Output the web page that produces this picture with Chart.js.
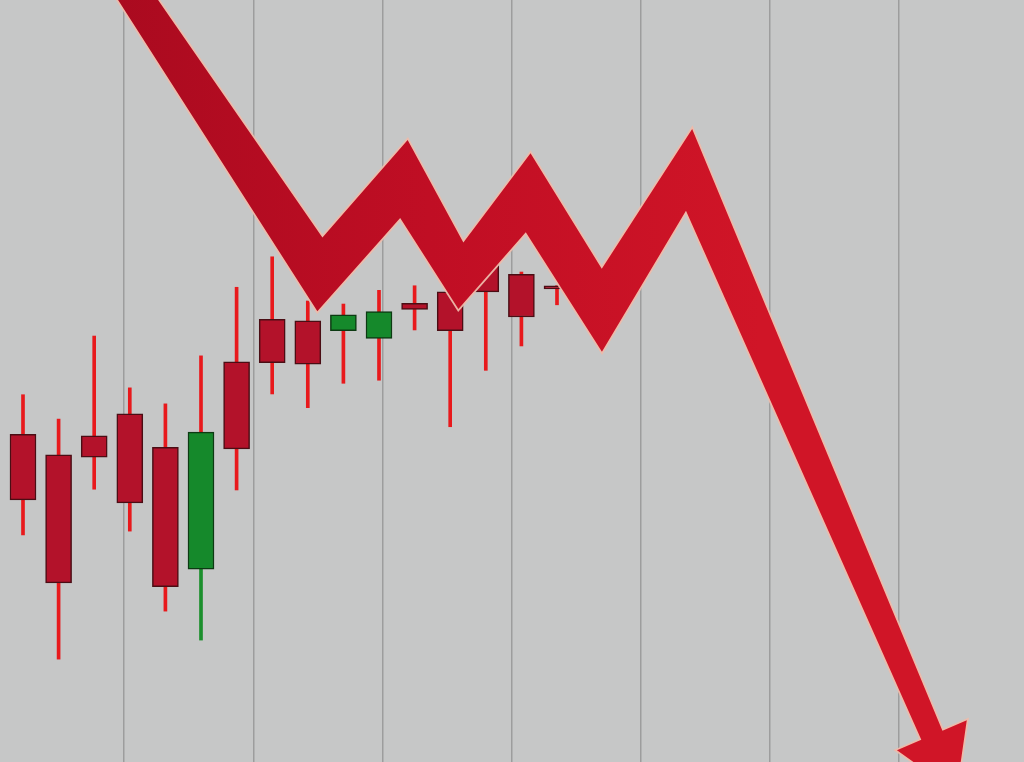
<!DOCTYPE html>
<html>
<head>
<meta charset="utf-8">
<title>Candles and falling arrow</title>
<script src="https://cdn.jsdelivr.net/npm/chart.js@4.4.0/dist/chart.umd.min.js"></script>
<style>
  html, body { margin: 0; padding: 0; background: #c6c7c7; overflow: hidden; }
  #wrap { width: 1024px; height: 762px; position: relative; }
</style>
</head>
<body>
<div id="wrap"><canvas id="chart"></canvas></div>
<script>
// candle values (price units), one per session
const opens  = [43.0, 40.3, 42.8, 45.7, 41.3, 25.3, 52.5, 58.1, 57.9, 56.6, 55.6, 60.2, 61.7, 65.6, 64.0, 62.5];
const highs  = [48.2, 45.0, 55.9, 49.1, 47.0, 53.3, 62.3, 66.3, 60.5, 60.1, 61.9, 62.5, 63.3, 66.5, 64.3, 62.5];
const lows   = [29.8, 13.5, 35.8, 30.3, 19.8, 16.0, 35.7, 48.3, 46.5, 49.7, 50.1, 56.7, 44.0, 51.4, 54.6, 60.0];
const closes = [34.4, 23.5, 40.0, 34.0, 23.0, 43.3, 41.1, 52.4, 52.2, 58.7, 59.1, 59.4, 56.6, 61.7, 58.4, 62.1];

// the big trend arrow, vertex by vertex (same units as the candles)
const arrowX = [2.67, 8.34, 10.70, 12.30, 14.19, 16.26, 18.71, 25.53];
const arrowY = [103.9, 64.0, 76.5, 63.8, 74.7, 59.3, 77.7, 3.5];

// vertical grid lines
const gridTicks = [2.84, 6.49, 10.11, 13.74, 17.36, 20.98, 24.61];

// styling
const arrowWidths = [32, 45, 46, 38, 46, 44, 38, 23];
const headHalf = 38;
const headLen = 62;
const redBody = '#b3122a', redEdge = '#4a0d14', redWick = '#e8191c';
const greenBody = '#15892b', greenEdge = '#0c3a12', greenWick = '#1b8f2c';

const rising = opens.map((o, i) => closes[i] > o);

const bodies = opens.map((o, i) => ({ x: i, y: [Math.min(o, closes[i]), Math.max(o, closes[i])] }));
const upperWicks = opens.map((o, i) => ({ x: i, y: [Math.max(o, closes[i]), highs[i]] }));
const lowerWicks = opens.map((o, i) => ({ x: i, y: [lows[i], Math.min(o, closes[i])] }));
const arrowPoints = arrowX.map((x, i) => ({ x, y: arrowY[i] }));

// draws the tapered arrow over the candles, using the points the scales placed
const arrowPlugin = {
    id: 'trendArrow',
    afterDatasetsDraw(chart) {
        const pts = chart.getDatasetMeta(0).data.map(p => ({ x: p.x, y: p.y }));
        const n = pts.length;
        const dirs = [];
        for (let i = 0; i < n - 1; i++) {
            const dx = pts[i + 1].x - pts[i].x, dy = pts[i + 1].y - pts[i].y;
            const l = Math.hypot(dx, dy);
            dirs.push({ x: dx / l, y: dy / l });
        }
        const left = [], right = [];
        pts.forEach((p, i) => {
            const a = dirs[Math.max(i - 1, 0)];
            const b = dirs[Math.min(i, n - 2)];
            let nx = -(a.y + b.y), ny = a.x + b.x;
            const l = Math.hypot(nx, ny);
            nx /= l; ny /= l;
            const k = (arrowWidths[i] / 2) / (nx * -a.y + ny * a.x);
            left.push({ x: p.x + nx * k, y: p.y + ny * k });
            right.push({ x: p.x - nx * k, y: p.y - ny * k });
        });
        const end = pts[n - 1], d = dirs[n - 2];
        const hx = -d.y, hy = d.x;

        const ctx = chart.ctx;
        ctx.save();
        ctx.beginPath();
        left.forEach((p, i) => i ? ctx.lineTo(p.x, p.y) : ctx.moveTo(p.x, p.y));
        ctx.lineTo(end.x + hx * headHalf, end.y + hy * headHalf);
        ctx.lineTo(end.x + d.x * headLen, end.y + d.y * headLen);
        ctx.lineTo(end.x - hx * headHalf, end.y - hy * headHalf);
        for (let i = n - 1; i >= 0; i--) ctx.lineTo(right[i].x, right[i].y);
        ctx.closePath();

        ctx.lineJoin = 'miter';
        ctx.miterLimit = 10;
        ctx.lineWidth = 3.5;
        ctx.strokeStyle = 'rgba(238,186,170,0.95)';
        ctx.stroke();

        const grad = ctx.createLinearGradient(100, 0, 760, 0);
        grad.addColorStop(0, '#a90a1f');
        grad.addColorStop(0.5, '#c00e24');
        grad.addColorStop(1, '#d01527');
        ctx.fillStyle = grad;
        ctx.fill();
        ctx.restore();
    }
};

new Chart(document.getElementById('chart'), {
    type: 'bar',
    data: {
        datasets: [
            {
                type: 'line',
                label: 'Trend',
                data: arrowPoints,
                showLine: false,
                pointRadius: 0,
                order: 0
            },
            {
                label: 'Body',
                data: bodies,
                backgroundColor: rising.map(r => r ? greenBody : redBody),
                borderColor: rising.map(r => r ? greenEdge : redEdge),
                borderWidth: 1.5,
                borderSkipped: false,
                barThickness: 26,
                grouped: false,
                order: 1
            },
            {
                label: 'Upper wick',
                data: upperWicks,
                backgroundColor: redWick,
                borderWidth: 0,
                barThickness: 3,
                grouped: false,
                order: 2
            },
            {
                label: 'Lower wick',
                data: lowerWicks,
                backgroundColor: rising.map((r, i) => r && i === 5 ? greenWick : redWick),
                borderWidth: 0,
                barThickness: 3,
                grouped: false,
                order: 2
            }
        ]
    },
    options: {
        responsive: true,
        maintainAspectRatio: false,
        animation: false,
        layout: { padding: 0 },
        plugins: {
            legend: { display: false },
            tooltip: { enabled: false }
        },
        scales: {
            x: {
                type: 'linear',
                min: -0.646,
                max: 28.118,
                offset: false,
                afterBuildTicks: axis => { axis.ticks = gridTicks.map(v => ({ value: v })); },
                ticks: { display: false },
                grid: {
                    offset: false,
                    drawTicks: false,
                    color: 'rgba(135,135,135,0.65)',
                    lineWidth: 1.5
                },
                border: { display: false }
            },
            y: {
                display: false,
                min: 0,
                max: 100
            }
        }
    },
    plugins: [arrowPlugin]
});
</script>
</body>
</html>
